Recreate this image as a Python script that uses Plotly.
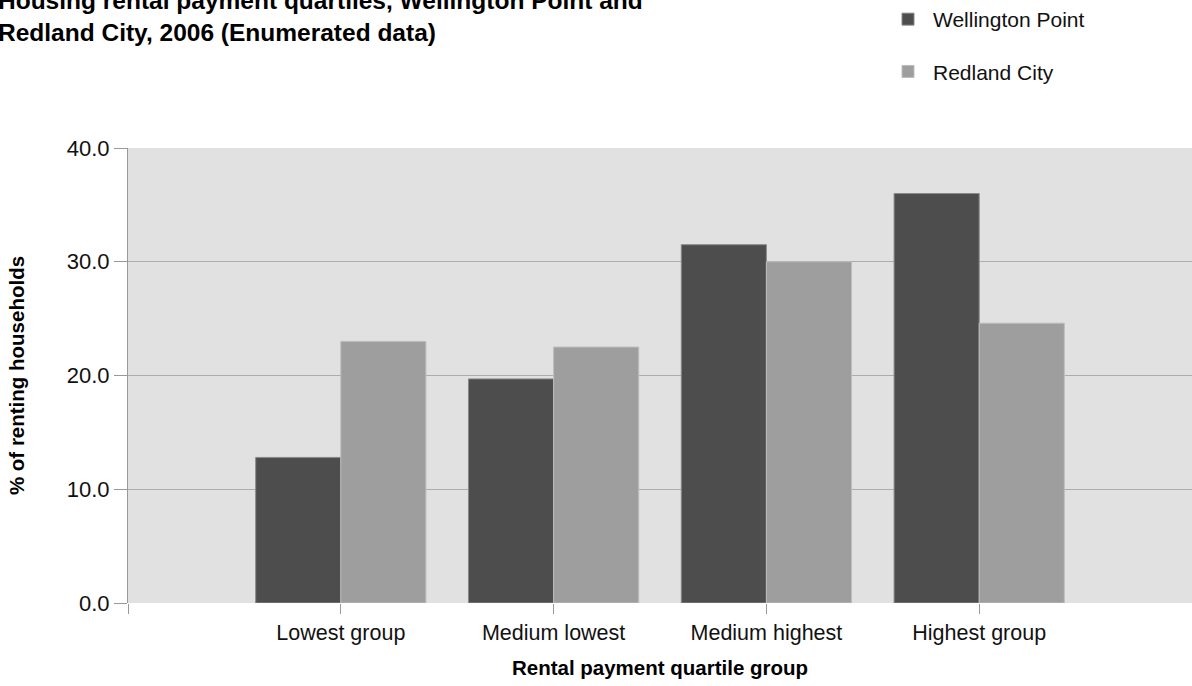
import plotly.graph_objects as go

categories = ["Lowest group", "Medium lowest", "Medium highest", "Highest group"]
wellington_point = [12.8, 19.7, 31.5, 36.0]
redland_city = [23.0, 22.5, 30.0, 24.6]
y_ticks = [0, 10, 20, 30, 40]

W, H = 1192, 686
L, R, T, B = 128, 0, 148, 83
PW, PH = W - L - R, H - T - B

positions = list(range(len(categories)))

def px_x(px):
    return (px - L) / PW

def px_y(py):
    return 1 + (T - py) / PH

font = "Liberation Sans, Arial, sans-serif"

fig = go.Figure()
fig.add_trace(go.Bar(
    x=positions, y=wellington_point, name="Wellington Point",
    marker=dict(color="#4d4d4d", line=dict(color="#8a8a8a", width=1)),
    legendgroup="a",
))
fig.add_trace(go.Bar(
    x=positions, y=redland_city, name="Redland City",
    marker=dict(color="#9e9e9e", line=dict(color="#bdbdbd", width=1)),
    legendgroup="b",
))

fig.update_layout(
    width=W, height=H,
    margin=dict(l=L, r=R, t=T, b=B, pad=0, autoexpand=False),
    paper_bgcolor="white",
    plot_bgcolor="#e1e1e1",
    barmode="group",
    bargap=0.2,
    bargroupgap=0,
    font=dict(family=font, color="#111111"),
    showlegend=True,
    legend=dict(
        x=px_x(883), y=px_y(-1), xanchor="left", yanchor="top",
        font=dict(size=21, family=font, color="#111111"),
        tracegroupgap=22, bgcolor="rgba(0,0,0,0)",
        itemwidth=40,
    ),
    xaxis=dict(
        range=[-1, 4],
        automargin=False,
        tickmode="array",
        tickvals=[-1] + positions,
        ticktext=[""] + categories,
        ticks="outside", ticklen=10, tickcolor="#999999", tickwidth=1,
        tickfont=dict(size=21.5, family=font, color="#111111"),
        showgrid=False, zeroline=False, showline=False,
        title=dict(text="<b>Rental payment quartile group</b>",
                   font=dict(size=20.5, family=font, color="#000000"), standoff=16),
        fixedrange=True,
    ),
    yaxis=dict(
        range=[0, 40],
        automargin=False,
        tickmode="array",
        tickvals=y_ticks,
        ticktext=[f"{v:.1f}" for v in y_ticks],
        ticks="outside", ticklen=13, tickcolor="#999999", tickwidth=1,
        tickfont=dict(size=22, family=font, color="#111111"),
        showgrid=True, gridcolor="#adadad", gridwidth=1,
        zeroline=False,
        showline=True, linecolor="#999999", linewidth=1,
        title=dict(text="<b>% of renting households</b>",
                   font=dict(size=20.5, family=font, color="#000000"), standoff=36),
        fixedrange=True,
    ),
    annotations=[dict(
        text="<b>Housing rental payment quartiles, Wellington Point and<br>Redland City, 2006 (Enumerated data)</b>",
        xref="paper", yref="paper", x=px_x(-4), y=px_y(-15),
        xanchor="left", yanchor="top", align="left", showarrow=False,
        font=dict(size=24.5, family=font, color="#000000"),
    )],
)

fig.write_html(
    "out.html",
    config={"displayModeBar": False},
    post_script="document.body.style.margin='0';document.body.style.overflow='hidden';",
)
